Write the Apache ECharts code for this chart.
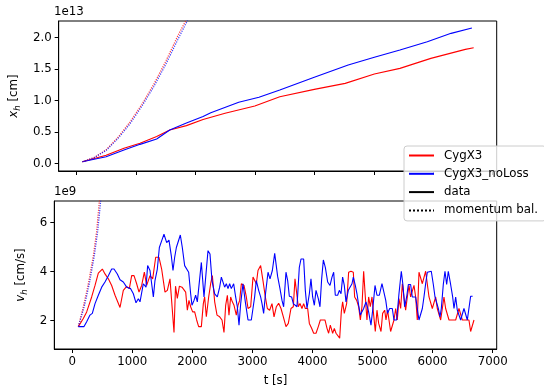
<!DOCTYPE html>
<html>
<head>
<meta charset="utf-8">
<script src="https://cdn.jsdelivr.net/npm/echarts@6/dist/echarts.min.js"></script>
<style>
html, body { margin: 0; padding: 0; background: #fff; }
#canvas_main { width: 544px; height: 388px; }
</style>
</head>
<body>
<div id="canvas_main"></div>
<script>
// x_h in units of 1e13 cm, [t, x]
var posRed = [[100,0.03],[500,0.135],[800,0.244],[1070,0.323],[1350,0.43],[1570,0.535],[1850,0.604],[2130,0.70],[2500,0.80],[3000,0.915],[3420,1.063],[4000,1.18],[4520,1.275],[5010,1.423],[5440,1.513],[5960,1.672],[6540,1.815],[6680,1.841]];
var posBlue = [[100,0.03],[500,0.11],[800,0.217],[1070,0.307],[1350,0.392],[1570,0.535],[1850,0.645],[2130,0.75],[2260,0.81],[2730,0.976],[3070,1.055],[3420,1.17],[4000,1.372],[4570,1.567],[5010,1.689],[5440,1.805],[5900,1.937],[6300,2.069],[6650,2.153]];
var posRedMb = [[102,0.03],[300,0.10],[500,0.22],[700,0.42],[900,0.66],[1100,0.94],[1300,1.26],[1500,1.62],[1700,2.02],[1833,2.26],[1900,2.39]];
var posBlueMb = [[102,0.03],[300,0.095],[500,0.21],[700,0.40],[900,0.63],[1100,0.91],[1300,1.22],[1500,1.57],[1700,1.96],[1861,2.26],[1930,2.40]];

// v_h in units of 1e9 cm/s, [t, v]
var velRed = [[102,1.75],[185,2.08],[241,2.35],[324,2.96],[380,3.43],[435,3.93],[502,4.10],[546,3.90],[602,3.70],[657,3.43],[713,3.03],[796,2.53],[851,3.23],[907,3.39],[951,3.30],[990,3.83],[1029,3.83],[1073,3.50],[1112,3.16],[1157,3.43],[1201,3.97],[1240,3.43],[1295,3.83],[1340,3.70],[1390,4.58],[1445,4.58],[1489,4.10],[1545,3.16],[1584,3.23],[1628,3.70],[1695,1.51],[1720,3.40],[1750,2.90],[1785,3.40],[1828,3.36],[1861,3.36],[1889,3.16],[1917,2.42],[1944,2.82],[1972,2.56],[2005,2.35],[2039,2.35],[2072,2.02],[2105,1.75],[2150,1.75],[2183,2.69],[2205,2.96],[2233,2.15],[2272,2.96],[2305,3.50],[2333,3.83],[2372,2.76],[2411,2.22],[2455,2.15],[2494,2.02],[2527,1.51],[2555,2.62],[2583,3.03],[2610,2.22],[2638,2.96],[2666,2.76],[2694,2.62],[2732,2.22],[2760,2.62],[2788,2.82],[2816,3.50],[2860,3.43],[2899,2.96],[2927,2.49],[2971,2.56],[3010,3.77],[3037,3.77],[3065,3.50],[3093,4.04],[3137,4.24],[3176,3.63],[3215,2.96],[3249,2.49],[3287,2.42],[3326,2.69],[3360,2.15],[3398,2.56],[3437,2.70],[3476,2.49],[3515,2.15],[3559,1.75],[3598,1.88],[3642,2.49],[3681,2.56],[3709,3.70],[3737,3.77],[3764,2.56],[3792,2.69],[3825,2.49],[3853,2.69],[3881,2.49],[3920,2.49],[3948,1.88],[3986,1.68],[4020,1.48],[4059,1.48],[4097,1.75],[4131,2.02],[4170,2.02],[4208,2.02],[4242,1.68],[4269,1.48],[4297,1.81],[4336,1.48],[4364,1.68],[4392,1.48],[4425,1.48],[4453,1.28],[4480,2.35],[4502,2.76],[4530,2.29],[4569,2.69],[4602,3.97],[4641,4.01],[4680,3.97],[4702,2.96],[4736,2.82],[4769,2.56],[4797,2.02],[4824,2.56],[4852,4.01],[4880,2.96],[4907,2.02],[4935,2.96],[4963,2.56],[4991,2.96],[5019,2.22],[5046,1.55],[5074,2.42],[5102,1.88],[5141,1.55],[5168,2.29],[5202,2.42],[5224,2.02],[5250,2.42],[5274,2.02],[5301,1.55],[5329,1.55],[5357,2.02],[5385,2.49],[5412,2.02],[5440,2.89],[5468,2.49],[5496,3.50],[5523,3.50],[5551,2.42],[5579,2.96],[5607,3.43],[5634,2.96],[5662,2.96],[5690,3.43],[5718,2.96],[5745,2.02],[5773,3.97],[5801,4.01],[5829,3.50],[5856,3.50],[5884,4.01],[5912,4.01],[5940,2.96],[5967,2.96],[5995,2.49],[6023,2.49],[6051,2.96],[6078,2.49],[6106,2.49],[6134,2.02],[6162,2.49],[6189,2.96],[6217,2.49],[6245,2.49],[6273,2.02],[6300,1.95],[6328,2.02],[6356,1.95],[6384,2.02],[6411,2.02],[6439,2.49],[6467,2.49],[6495,2.02],[6550,2.02],[6605,2.02],[6633,1.55],[6661,1.55],[6689,2.02]];
var velBlue = [[102,1.75],[197,1.75],[241,1.95],[296,2.22],[335,2.29],[380,2.69],[435,3.03],[491,3.36],[546,3.57],[602,3.83],[657,4.10],[696,4.10],[751,3.90],[796,3.66],[851,3.57],[907,3.36],[973,3.30],[1018,3.09],[1062,2.72],[1101,2.89],[1129,2.76],[1184,3.50],[1229,3.36],[1256,4.24],[1295,4.04],[1323,3.50],[1351,2.96],[1378,3.63],[1417,4.10],[1451,4.98],[1489,5.25],[1528,5.52],[1573,5.18],[1611,5.28],[1650,4.64],[1678,4.04],[1706,4.58],[1734,4.98],[1761,4.91],[1800,5.49],[1833,4.98],[1872,4.24],[1900,4.24],[1939,3.97],[1972,3.09],[1994,2.62],[2028,2.82],[2055,3.03],[2083,2.76],[2111,2.76],[2150,4.37],[2194,2.96],[2227,3.90],[2261,4.85],[2294,4.71],[2327,3.63],[2372,3.09],[2416,2.96],[2455,3.36],[2483,3.77],[2510,3.70],[2538,3.36],[2566,3.50],[2594,3.30],[2621,3.50],[2649,3.30],[2688,3.50],[2721,2.96],[2749,2.56],[2777,1.81],[2805,2.69],[2843,3.50],[2882,2.76],[2927,2.02],[2982,2.02],[3010,2.02],[3037,2.96],[3065,3.63],[3104,3.23],[3137,2.96],[3160,2.69],[3187,2.29],[3221,3.16],[3260,3.97],[3293,3.70],[3332,4.04],[3371,4.74],[3420,3.80],[3459,3.30],[3493,2.82],[3520,2.56],[3559,3.97],[3587,3.63],[3615,2.99],[3653,2.96],[3681,2.69],[3714,2.76],[3742,2.56],[3781,4.17],[3809,4.51],[3853,4.51],[3881,3.23],[3909,2.49],[3948,3.09],[3975,3.70],[4003,2.96],[4031,2.62],[4059,3.23],[4097,2.89],[4125,2.56],[4153,3.70],[4181,4.47],[4214,4.17],[4253,3.57],[4292,3.43],[4325,3.77],[4353,3.97],[4380,3.03],[4419,3.03],[4447,3.23],[4475,3.09],[4502,3.77],[4530,3.43],[4558,2.76],[4597,3.23],[4625,3.23],[4658,3.50],[4680,3.77],[4713,3.43],[4741,3.09],[4769,2.62],[4797,2.22],[4824,2.22],[4852,2.49],[4891,2.76],[4935,2.35],[4974,1.81],[5002,2.42],[5041,3.43],[5074,3.03],[5113,3.03],[5157,3.50],[5185,3.43],[5220,2.82],[5250,2.29],[5285,2.49],[5329,2.49],[5357,2.02],[5401,2.02],[5440,3.09],[5479,4.01],[5507,3.43],[5534,2.56],[5568,2.96],[5596,3.47],[5634,3.47],[5662,2.96],[5690,2.89],[5718,2.96],[5745,2.49],[5773,2.02],[5801,2.02],[5829,2.49],[5856,2.96],[5884,3.50],[5912,3.97],[5940,4.01],[5978,4.01],[6012,3.47],[6040,2.96],[6067,2.96],[6095,2.49],[6123,2.15],[6145,2.49],[6178,3.47],[6206,4.01],[6234,3.47],[6261,4.01],[6300,3.47],[6334,2.96],[6356,2.49],[6384,2.96],[6411,2.42],[6439,2.49],[6467,2.02],[6500,2.02],[6522,2.49],[6550,2.49],[6578,2.02],[6605,2.02],[6633,2.99],[6666,2.99]];
var velRedMb = [[102,1.75],[185,2.56],[269,3.50],[352,4.64],[407,5.65],[452,6.87],[470,7.20]];
var velBlueMb = [[102,1.75],[200,2.56],[285,3.50],[368,4.64],[425,5.65],[474,6.87],[490,7.20]];

var tTicks = [0, 1000, 2000, 3000, 4000, 5000, 6000, 7000];
var posTicks = [0, 0.5, 1.0, 1.5, 2.0];
var velTicks = [2, 4, 6];
var legendNames = ['CygX3', 'CygX3_noLoss', 'data', 'momentum bal.'];

var FONT = 'DejaVu Sans';
var FS = 11.8;

function xAxisFor(idx, withLabels) {
	var ax = {
		type: 'value', gridIndex: idx, min: -298, max: 7067,
		axisLine: { show: true, onZero: false, lineStyle: { color: '#000', width: 1 } },
		axisTick: { show: true, length: 4, customValues: tTicks, lineStyle: { color: '#000', width: 1 } },
		axisLabel: { show: withLabels, customValues: tTicks, margin: 7, color: '#000', fontSize: FS, fontFamily: FONT,
			formatter: function (v) { return String(v); } },
		splitLine: { show: false }
	};
	if (withLabels) {
		ax.name = 't [s]';
		ax.nameLocation = 'middle';
		ax.nameGap = 26;
		ax.nameTextStyle = { color: '#000', fontSize: FS, fontFamily: FONT };
	}
	return ax;
}

function yAxisFor(idx, min, max, ticks, fmt, name, gap) {
	return {
		type: 'value', gridIndex: idx, min: min, max: max,
		axisLine: { show: true, onZero: false, lineStyle: { color: '#000', width: 1 } },
		axisTick: { show: true, length: 4, customValues: ticks, lineStyle: { color: '#000', width: 1 } },
		axisLabel: { customValues: ticks, margin: 7, color: '#000', fontSize: FS, fontFamily: FONT, formatter: fmt },
		splitLine: { show: false },
		name: name, nameLocation: 'middle', nameRotate: 90, nameGap: gap,
		nameTextStyle: {
			color: '#000', fontSize: FS, fontFamily: FONT,
			rich: {
				i: { fontSize: FS, fontFamily: FONT, fontStyle: 'italic', color: '#000', lineHeight: 16, verticalAlign: 'middle' },
				s: { fontSize: 8.5, fontFamily: FONT, fontStyle: 'italic', color: '#000', lineHeight: 16, verticalAlign: 'bottom' },
				n: { fontSize: FS, fontFamily: FONT, color: '#000', lineHeight: 16, verticalAlign: 'middle' }
			}
		}
	};
}

function lineSeries(name, data, xi, color, dotted) {
	return {
		name: name, type: 'line', xAxisIndex: xi, yAxisIndex: xi, data: data,
		showSymbol: false, symbol: 'none', clip: true,
		lineStyle: { color: color, width: dotted ? 1.2 : 1.1, type: dotted ? 'dotted' : 'solid', opacity: dotted ? 0.75 : 1 },
		itemStyle: { color: color },
		z: dotted ? 3 : 2
	};
}

var myChart = echarts.init(document.getElementById('canvas_main'), null, { renderer: 'canvas' });
var option = {
	animation: false,
	backgroundColor: '#fff',
	grid: [
		{ left: 54.3, right: 47.3, top: 21, height: 150, show: true, borderColor: '#000', borderWidth: 1 },
		{ left: 54.3, right: 47.3, top: 201, height: 149.5, show: true, borderColor: '#000', borderWidth: 1 }
	],
	xAxis: [xAxisFor(0, false), xAxisFor(1, true)],
	yAxis: [
		yAxisFor(0, -0.116, 2.265, posTicks, function (v) { return v.toFixed(1); }, '{i|x}{s|h}{n| [cm]}', 32),
		yAxisFor(1, 0.836, 6.877, velTicks, function (v) { return String(v); }, '{i|v}{s|h}{n| [cm/s]}', 20)
	],
	legend: {
		data: legendNames,
		orient: 'vertical',
		left: 404, top: 146,
		padding: [3, 8, 4, 4],
		itemWidth: 25, itemHeight: 13, itemGap: 5.3,
		itemStyle: { opacity: 0 },
		backgroundColor: 'rgba(255,255,255,0.8)',
		borderColor: '#cccccc', borderWidth: 1, borderRadius: 3,
		textStyle: { color: '#000', fontSize: FS, fontFamily: FONT, lineHeight: 13, padding: [0, 0, 0, 5] },
		selectedMode: false,
		z: 10
	},
	graphic: [
		{ type: 'text', left: 54, top: 6, style: { text: '1e13', fontSize: FS, fontFamily: FONT, fill: '#000' } },
		{ type: 'text', left: 54, top: 186, style: { text: '1e9', fontSize: FS, fontFamily: FONT, fill: '#000' } }
	],
	series: [
		lineSeries('CygX3', posRed, 0, '#ff0000', false),
		lineSeries('CygX3_noLoss', posBlue, 0, '#0000ff', false),
		lineSeries('CygX3 mb', posRedMb, 0, '#ff0000', true),
		lineSeries('CygX3_noLoss mb', posBlueMb, 0, '#0000ff', true),
		lineSeries('CygX3', velRed, 1, '#ff0000', false),
		lineSeries('CygX3_noLoss', velBlue, 1, '#0000ff', false),
		lineSeries('CygX3 mb', velRedMb, 1, '#ff0000', true),
		lineSeries('CygX3_noLoss mb', velBlueMb, 1, '#0000ff', true),
		{ name: 'data', type: 'line', xAxisIndex: 1, yAxisIndex: 1, data: [], symbol: 'none',
		  lineStyle: { color: '#000', width: 2 }, itemStyle: { color: '#000' } },
		{ name: 'momentum bal.', type: 'line', xAxisIndex: 1, yAxisIndex: 1, data: [], symbol: 'none',
		  lineStyle: { color: '#000', width: 1.5, type: 'dotted' }, itemStyle: { color: '#000' } }
	]
};
myChart.setOption(option);
</script>
</body>
</html>
